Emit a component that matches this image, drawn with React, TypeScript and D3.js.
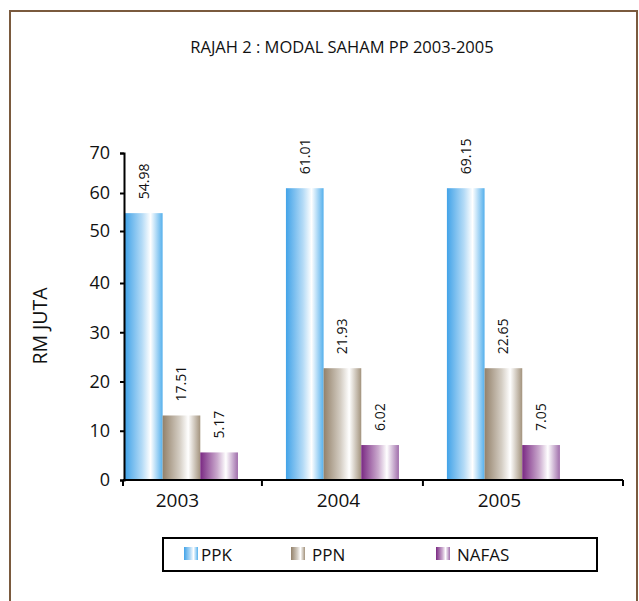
import { useEffect, useRef } from "react";
import * as d3 from "d3";

// categories and series
const years = ["2003", "2004", "2005"];
const seriesNames = ["PPK", "PPN", "NAFAS"];

// bar heights as read against the value axis (RM juta)
const ppk = [54.7, 61.2, 61.2];
const ppn = [13.1, 22.7, 22.7];
const nafas = [5.6, 7.1, 7.1];

// the value labels printed above the bars
const ppkLabels = ["54.98", "61.01", "69.15"];
const ppnLabels = ["17.51", "21.93", "22.65"];
const nafasLabels = ["5.17", "6.02", "7.05"];

const yTicks = [0, 10, 20, 30, 40, 50, 60, 70];

const FONT = "'Open Sans', 'DejaVu Sans', sans-serif";

const colors: Record<string, [string, string]> = {
  PPK: ["#42a3e8", "#55b0ec"],
  PPN: ["#93816a", "#a3937d"],
  NAFAS: ["#7a2983", "#a06eab"],
};

const App = () => {
  const svgRef = useRef<SVGSVGElement>(null);

  useEffect(() => {
    if (!svgRef.current) return;
    const svg = d3.select(svgRef.current);
    svg.selectAll("*").remove();

    const width = 639;
    const height = 601;
    svg.attr("width", width).attr("height", height);

    const values = [ppk, ppn, nafas];
    const labels = [ppkLabels, ppnLabels, nafasLabels];

    // gradients
    const defs = svg.append("defs");
    seriesNames.forEach((s) => {
      const [c0, c1] = colors[s];
      const grad = defs
        .append("linearGradient")
        .attr("id", `grad-${s}`)
        .attr("x1", 0)
        .attr("x2", 1)
        .attr("y1", 0)
        .attr("y2", 0);
      grad.append("stop").attr("offset", 0).attr("stop-color", c0);
      grad.append("stop").attr("offset", 0.45).attr("stop-color", d3.interpolateRgb(c0, "#fff")(0.6));
      grad.append("stop").attr("offset", 0.68).attr("stop-color", "#ffffff");
      grad.append("stop").attr("offset", 1).attr("stop-color", c1);
    });

    // frame
    svg
      .append("rect")
      .attr("x", 10)
      .attr("y", 11)
      .attr("width", 627)
      .attr("height", 620)
      .attr("fill", "none")
      .attr("stroke", "#7a5a3e")
      .attr("stroke-width", 2);

    // title
    svg
      .append("text")
      .attr("x", 342)
      .attr("y", 53)
      .attr("text-anchor", "middle")
      .attr("font-family", FONT)
      .attr("font-size", 16.5)
      .attr("fill", "#111")
      .text("RAJAH 2 : MODAL SAHAM PP 2003-2005");

    const plotLeft = 123;
    const plotRight = 623;
    const plotBottom = 480;

    const x0 = d3
      .scaleBand<string>()
      .domain(years)
      .range([plotLeft, plotRight])
      .paddingInner(0.298)
      .paddingOuter(0.202)
      .align(0.03);

    const x1 = d3
      .scaleBand<string>()
      .domain(seriesNames)
      .range([0, x0.bandwidth()]);

    // the value axis in the original is not evenly spaced at the top
    const y = d3
      .scaleLinear()
      .domain([0, 40, 50, 60, 70])
      .range([plotBottom, 283, 231, 193, 153]);

    // bars
    const g = svg.append("g");
    seriesNames.forEach((s, si) => {
      years.forEach((yr, i) => {
        const v = values[si][i];
        const bx = (x0(yr) ?? 0) + (x1(s) ?? 0);
        g.append("rect")
          .attr("x", bx)
          .attr("y", y(v))
          .attr("width", x1.bandwidth())
          .attr("height", plotBottom - y(v))
          .attr("fill", `url(#grad-${s})`);

        g.append("text")
          .attr("transform", `translate(${bx + x1.bandwidth() / 2}, ${y(v) - 14}) rotate(-90)`)
          .attr("dy", "0.35em")
          .attr("text-anchor", "start")
          .attr("font-family", FONT)
          .attr("font-size", 14)
          .attr("fill", "#111")
          .text(labels[si][i]);
      });
    });

    // y axis
    const yAxis = svg
      .append("g")
      .attr("transform", `translate(${plotLeft + 1},0)`)
      .call(d3.axisLeft(y).tickValues(yTicks).tickSize(4).tickPadding(10).tickFormat(d3.format("d")));
    yAxis.select(".domain").attr("stroke", "#000").attr("stroke-width", 2);
    yAxis.selectAll(".tick line").attr("stroke", "#000").attr("stroke-width", 2);
    yAxis
      .selectAll(".tick text")
      .attr("font-family", FONT)
      .attr("font-size", 18)
      .attr("fill", "#111");

    // x axis
    const step = x0.step();
    const bounds = [
      plotLeft,
      ...years.slice(1).map((yr) => (x0(yr) ?? 0) - (step * x0.paddingInner()) / 2),
      plotRight,
    ];
    const xa = svg.append("g");
    xa.append("line")
      .attr("x1", plotLeft)
      .attr("x2", plotRight)
      .attr("y1", plotBottom)
      .attr("y2", plotBottom)
      .attr("stroke", "#000")
      .attr("stroke-width", 2);
    xa.selectAll("line.tk")
      .data(bounds)
      .enter()
      .append("line")
      .attr("class", "tk")
      .attr("x1", (d) => d)
      .attr("x2", (d) => d)
      .attr("y1", plotBottom)
      .attr("y2", plotBottom + 6)
      .attr("stroke", "#000")
      .attr("stroke-width", 2);
    xa.selectAll("text")
      .data(years)
      .enter()
      .append("text")
      .attr("x", (d) => (x0(d) ?? 0) + x0.bandwidth() / 2 - 4)
      .attr("y", 507)
      .attr("text-anchor", "middle")
      .attr("font-family", FONT)
      .attr("font-size", 19)
      .attr("fill", "#111")
      .text((d) => d);

    // y title
    svg
      .append("text")
      .attr("transform", "translate(40, 326) rotate(-90)")
      .attr("dy", "0.35em")
      .attr("text-anchor", "middle")
      .attr("font-family", FONT)
      .attr("font-size", 19.5)
      .attr("fill", "#111")
      .text("RM JUTA");

    // legend
    const legend = svg.append("g");
    legend
      .append("rect")
      .attr("x", 163)
      .attr("y", 538)
      .attr("width", 434)
      .attr("height", 33)
      .attr("fill", "none")
      .attr("stroke", "#000")
      .attr("stroke-width", 2);
    const legendX = [184, 291, 436];
    seriesNames.forEach((s, i) => {
      legend
        .append("rect")
        .attr("x", legendX[i])
        .attr("y", 547)
        .attr("width", 14)
        .attr("height", 13)
        .attr("fill", `url(#grad-${s})`);
      legend
        .append("text")
        .attr("x", legendX[i] + (i === 0 ? 17 : 21))
        .attr("y", 561)
        .attr("font-family", FONT)
        .attr("font-size", 17)
        .attr("fill", "#111")
        .text(s);
    });
  }, []);

  return (
    <div style={{ position: "absolute", left: 0, top: 0 }}>
      <svg ref={svgRef} style={{ display: "block" }} />
    </div>
  );
};

export default App;
